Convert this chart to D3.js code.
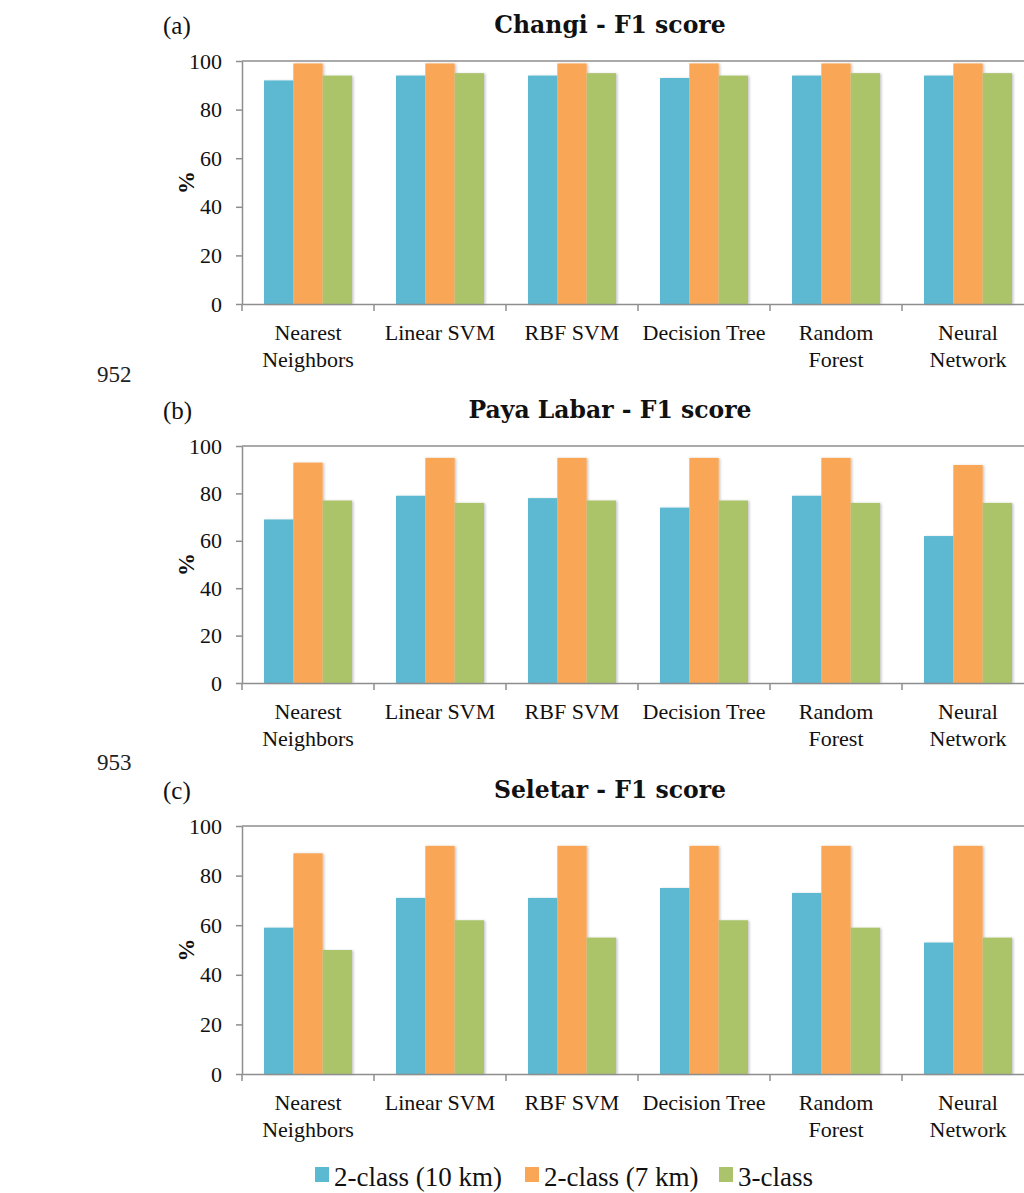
<!DOCTYPE html>
<html>
<head>
<meta charset="utf-8">
<script src="https://cdn.jsdelivr.net/npm/d3@7"></script>
<style>
  html, body { margin: 0; padding: 0; background: #fff; }
  svg { display: block; font-family: "Liberation Serif", serif; }
</style>
</head>
<body>
<svg id="chart" width="1024" height="1193"></svg>
<script>
// Classifiers on the x axis (label lines)
const categories = ["Nearest Neighbors", "Linear SVM", "RBF SVM", "Decision Tree", "Random Forest", "Neural Network"];
const categoryLines = [["Nearest", "Neighbors"], ["Linear SVM"], ["RBF SVM"], ["Decision Tree"], ["Random", "Forest"], ["Neural", "Network"]];

// Problem settings (series)
const series = ["2-class (10 km)", "2-class (7 km)", "3-class"];
const seriesColors = ["#5bb9d1", "#f9a657", "#abc46b"];

// F1 scores (%) per station, one array per series
const changi10km  = [92, 94, 94, 93, 94, 94];
const changi7km   = [99, 99, 99, 99, 99, 99];
const changi3cls  = [94, 95, 95, 94, 95, 95];

const paya10km    = [69, 79, 78, 74, 79, 62];
const paya7km     = [93, 95, 95, 95, 95, 92];
const paya3cls    = [77, 76, 77, 77, 76, 76];

const seletar10km = [59, 71, 71, 75, 73, 53];
const seletar7km  = [89, 92, 92, 92, 92, 92];
const seletar3cls = [50, 62, 55, 62, 59, 55];

const yTicks = [0, 20, 40, 60, 80, 100];

const panels = [
  { tag: "(a)", title: "Changi - F1 score",     data: [changi10km, changi7km, changi3cls],   top: 61,  bottom: 304 },
  { tag: "(b)", title: "Paya Labar - F1 score", data: [paya10km, paya7km, paya3cls],         top: 446, bottom: 683 },
  { tag: "(c)", title: "Seletar - F1 score",    data: [seletar10km, seletar7km, seletar3cls], top: 826, bottom: 1074 }
];
const lineNumbers = [{ text: "952", y: 374 }, { text: "953", y: 762 }];

const svg = d3.select("#chart");
const axisColor = "#8e8e8e";
const left = 242, right = 1034;

// soft drop shadow under the bars
const defs = svg.append("defs");
const f = defs.append("filter").attr("id", "barShadow")
  .attr("x", "-10%").attr("y", "-5%").attr("width", "130%").attr("height", "115%");
f.append("feDropShadow").attr("dx", 1.5).attr("dy", 0.5).attr("stdDeviation", 1.2)
  .attr("flood-color", "#000").attr("flood-opacity", 0.22);

const x = d3.scaleBand().domain(categories).range([left, right]).paddingInner(0).paddingOuter(0);
const xs = d3.scaleBand().domain(series).range([0, x.bandwidth()]).paddingInner(0).paddingOuter(0.75);

panels.forEach(p => {
  const g = svg.append("g");
  const y = d3.scaleLinear().domain([0, 100]).range([p.bottom, p.top]);

  // top frame line
  g.append("line")
    .attr("x1", left).attr("x2", right)
    .attr("y1", y(100)).attr("y2", y(100))
    .attr("stroke", axisColor).attr("stroke-width", 1.5);

  // bars
  series.forEach((s, si) => {
    g.append("g").attr("filter", "url(#barShadow)")
      .selectAll("rect")
      .data(categories.map((c, ci) => ({ c, v: p.data[si][ci] })))
      .join("rect")
      .attr("x", d => x(d.c) + xs(s))
      .attr("width", xs.bandwidth())
      .attr("y", d => y(d.v))
      .attr("height", d => y(0) - y(d.v))
      .attr("fill", seriesColors[si]);
  });

  // y axis
  const yAxis = g.append("g")
    .attr("transform", `translate(${left},0)`)
    .call(d3.axisLeft(y).tickValues(yTicks).tickSize(6).tickPadding(14).tickSizeOuter(0));
  yAxis.select(".domain").attr("stroke", axisColor).attr("stroke-width", 1.5);
  yAxis.selectAll(".tick line").attr("stroke", axisColor).attr("stroke-width", 1.5);
  yAxis.selectAll(".tick text")
    .attr("font-family", "Liberation Serif").attr("font-size", 22).attr("fill", "#111");

  // x axis baseline with boundary ticks between categories
  const xAxis = g.append("g").attr("transform", `translate(0,${y(0)})`)
    .call(d3.axisBottom(x).tickSize(0).tickFormat(""));
  xAxis.select(".domain").attr("stroke", axisColor).attr("stroke-width", 1.5);
  g.selectAll(".xbound")
    .data(categories)
    .join("line")
    .attr("class", "xbound")
    .attr("x1", d => x(d)).attr("x2", d => x(d))
    .attr("y1", y(0)).attr("y2", y(0) + 7)
    .attr("stroke", axisColor).attr("stroke-width", 1.5);

  // category labels
  categories.forEach((c, ci) => {
    const t = g.append("text")
      .attr("x", x(c) + x.bandwidth() / 2)
      .attr("y", y(0) + 36)
      .attr("text-anchor", "middle")
      .attr("font-size", 22).attr("fill", "#111");
    categoryLines[ci].forEach((ln, li) => {
      t.append("tspan").attr("x", x(c) + x.bandwidth() / 2).attr("dy", li === 0 ? 0 : 27).text(ln);
    });
  });

  // y axis title
  const ym = (p.top + p.bottom) / 2;
  g.append("text")
    .attr("transform", `translate(194,${ym}) rotate(-90)`)
    .attr("text-anchor", "middle")
    .attr("font-weight", "bold").attr("font-size", 23).attr("fill", "#111")
    .text("%");

  // panel title and tag
  g.append("text")
    .attr("x", 610).attr("y", p.top - 28)
    .attr("text-anchor", "middle")
    .attr("font-family", "DejaVu Serif")
    .attr("font-weight", "bold").attr("font-size", 23.5).attr("fill", "#111")
    .text(p.title);
  g.append("text")
    .attr("x", 163).attr("y", p.top - 27)
    .attr("font-size", 25).attr("fill", "#111")
    .text(p.tag);
});

// line numbers in the left margin
svg.selectAll(".lineno")
  .data(lineNumbers)
  .join("text")
  .attr("class", "lineno")
  .attr("x", 97).attr("y", d => d.y + 8)
  .attr("font-size", 23).attr("fill", "#222")
  .text(d => d.text);

// legend
const legendX = [315, 525, 719];
const legend = svg.append("g");
series.forEach((s, i) => {
  legend.append("rect")
    .attr("x", legendX[i]).attr("y", 1167)
    .attr("width", 14).attr("height", 15)
    .attr("fill", seriesColors[i]);
  legend.append("text")
    .attr("x", legendX[i] + 19).attr("y", 1186)
    .attr("font-size", 27).attr("fill", "#111")
    .text(s);
});
</script>
</body>
</html>
